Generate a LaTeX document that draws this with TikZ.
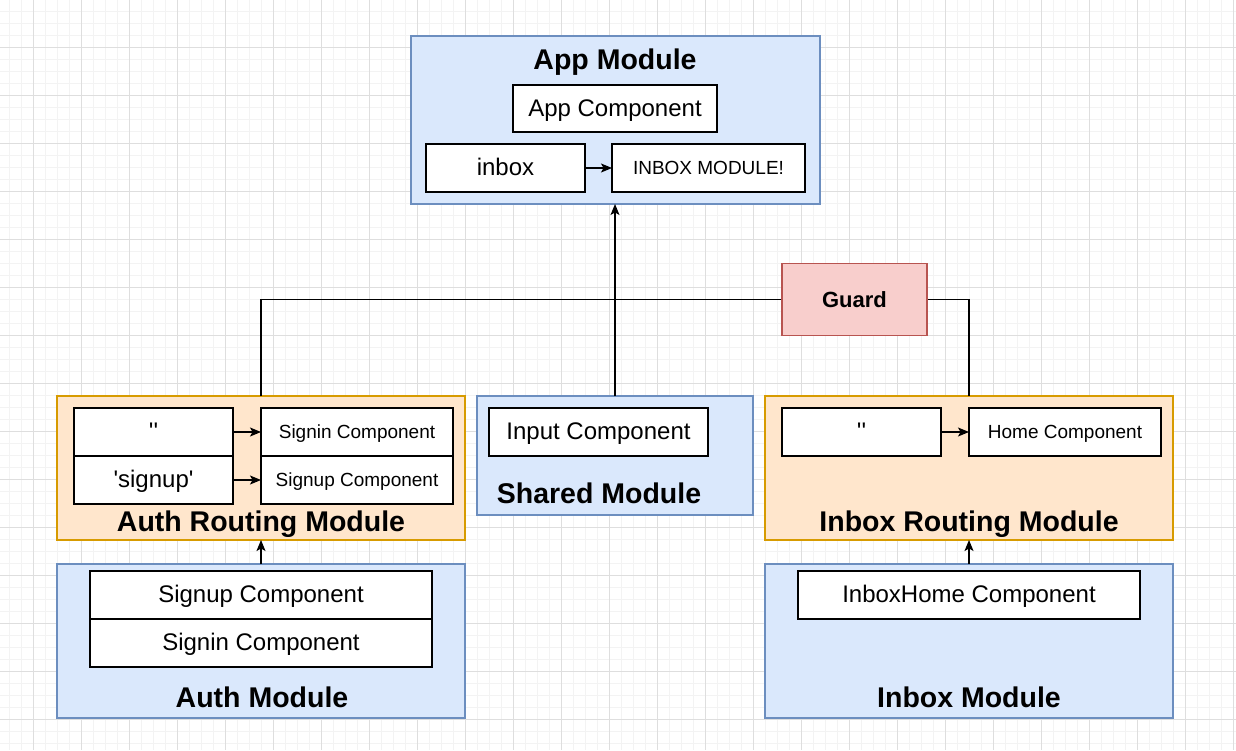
\documentclass[tikz,border=0pt]{standalone}
\usepackage{fontspec}
\setmainfont{Liberation Sans}[Ligatures=TeXOff]
\usetikzlibrary{arrows.meta,positioning}

\definecolor{gridminor}{HTML}{F3F3F3}
\definecolor{gridmajor}{HTML}{DEDEDE}
\definecolor{modfill}{HTML}{DAE8FC}
\definecolor{modline}{HTML}{6C8EBF}
\definecolor{routefill}{HTML}{FFE6CC}
\definecolor{routeline}{HTML}{D79B00}
\definecolor{guardfill}{HTML}{F8CECC}
\definecolor{guardline}{HTML}{B85450}

\begin{document}
\begin{tikzpicture}[
    x=1pt, y=-1pt, % pixel coordinates, y pointing down
    line width=1.2pt,
    >={Stealth[length=11pt, width=9pt, inset=2.5pt]},
    % styles
    module/.style={
        draw=modline,
        fill=modfill,
        anchor=north west,
        inner sep=0pt,
        outer sep=0pt
    },
    routing/.style={
        module,
        draw=routeline,
        fill=routefill
    },
    box/.style={
        draw,
        fill=white,
        anchor=north west,
        inner sep=0pt,
        outer sep=0pt,
        text height=19pt,
        text depth=3.4pt,
        font=\fontsize{24}{28}\selectfont
    },
    small box/.style={
        box,
        text height=15.2pt,
        text depth=2.7pt,
        font=\fontsize{19}{23}\selectfont
    },
    title/.style={
        font=\bfseries\fontsize{28.5}{32}\selectfont
    },
    guard/.style={
        draw=guardline,
        fill=guardfill,
        minimum width=145pt,
        minimum height=72pt,
        inner sep=0pt,
        font=\bfseries\fontsize{22}{26}\selectfont
    }
]
    \useasboundingbox (0,0) rectangle (1236,750);

    % --- 0. Background grid ---
    \foreach \x in {9,21,...,1236} \draw[gridminor, line width=0.8pt] (\x,0) -- (\x,750);
    \foreach \y in {11,23,...,750} \draw[gridminor, line width=0.8pt] (0,\y) -- (1236,\y);
    \foreach \x in {33,81,...,1236} \draw[gridmajor, line width=0.8pt] (\x,0) -- (\x,750);
    \foreach \y in {47,95,...,750} \draw[gridmajor, line width=0.8pt] (0,\y) -- (1236,\y);

    % --- 1. App Module (top) ---
    \node[module, minimum width=409pt, minimum height=168pt] (app) at (411,36) {};
    \node[title] (app title) at (615,62) {App Module};
    \node[box, minimum width=204pt, minimum height=47pt] (appcomp) at (513,85) {App Component};
    \node[box, minimum width=159pt, minimum height=48pt] (approute) at (426,144) {inbox};
    \node[small box, minimum width=193pt, minimum height=48pt] (applazy) at (612,144) {INBOX MODULE!};

    % --- 2. Auth Routing Module (left) ---
    \node[routing, minimum width=408pt, minimum height=144pt] (authroute) at (57,396) {};
    \node[box, minimum width=159pt, minimum height=48pt] (pathempty) at (74,408) {''};
    \node[box, minimum width=159pt, minimum height=48pt, below=0pt of pathempty] (pathsignup) {'signup'};
    \node[small box, minimum width=192pt, minimum height=48pt] (routesignin) at (261,408) {Signin Component};
    \node[small box, minimum width=192pt, minimum height=48pt, below=0pt of routesignin] (routesignup) {Signup Component};
    \node[title] (authroute title) at (261,524) {Auth Routing Module};

    % --- 3. Shared Module (center) ---
    \node[module, minimum width=276pt, minimum height=119pt] (shared) at (477,396) {};
    \node[box, minimum width=219pt, minimum height=48pt] (input) at (489,408) {Input Component};
    \node[title] (shared title) at (599,493) {Shared Module};

    % --- 4. Inbox Routing Module (right) ---
    \node[routing, minimum width=408pt, minimum height=144pt] (inboxroute) at (765,396) {};
    \node[box, minimum width=159pt, minimum height=48pt] (homepath) at (782,408) {''};
    \node[small box, minimum width=192pt, minimum height=48pt] (home) at (969,408) {Home Component};
    \node[title] (inboxroute title) at (969,524) {Inbox Routing Module};

    % --- 5. Auth Module / Inbox Module (bottom) ---
    \node[module, minimum width=408pt, minimum height=154pt] (authmod) at (57,564) {};
    \node[box, minimum width=342pt, minimum height=48pt] (signup) at (90,571) {Signup Component};
    \node[box, minimum width=342pt, minimum height=48pt, below=0pt of signup] (signin) {Signin Component};
    \node[title] (authmod title) at (262,697) {Auth Module};

    \node[module, minimum width=408pt, minimum height=154pt] (inboxmod) at (765,564) {};
    \node[box, minimum width=342pt, minimum height=48pt] (inboxhome) at (798,571) {InboxHome Component};
    \node[title] (inboxmod title) at (969,697) {Inbox Module};

    % --- 6. Guard ---
    \node[guard] (guard) at (854.5,299.5) {Guard};
    \coordinate (join) at (shared.north |- guard.west);

    % --- 7. Arrows ---
    \draw[->] (approute.east) -- (applazy.west);
    \draw[->] (pathempty.east) -- (routesignin.west);
    \draw[->] (pathsignup.east) -- (routesignup.west);
    \draw[->] (homepath.east) -- (home.west);

    \draw[->] (shared.north) -- (shared.north |- app.south);
    \draw (authroute.north) |- (join);
    \draw (inboxroute.north) |- (guard.east);
    \draw (guard.west) -- (join);

    \draw[->] (authmod.north) -- (authroute.south);
    \draw[->] (inboxmod.north) -- (inboxroute.south);

\end{tikzpicture}
\end{document}
